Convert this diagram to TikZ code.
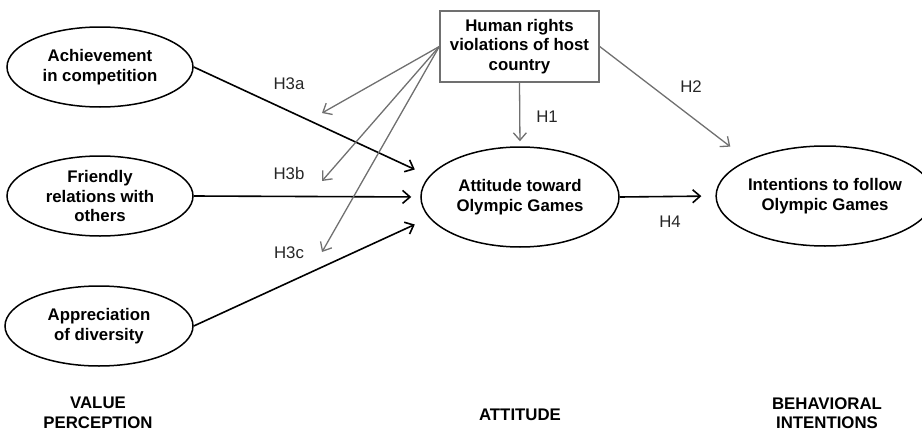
\documentclass[tikz,border=0pt]{standalone}
\usepackage{fontspec}
\setmainfont{Liberation Sans}
\usepackage{xcolor}
\usepackage{tikz}
\usetikzlibrary{shapes.geometric,arrows.meta,positioning}

\definecolor{modgray}{HTML}{707070}
\newcommand{\figfont}{\fontsize{16.8}{19.5}\selectfont}

\begin{document}
\begin{tikzpicture}[x=1pt, y=-1pt,
		construct/.style={draw, ellipse, line width=1.5pt, inner sep=0pt, align=center, font=\figfont\bfseries},
		link/.style={line width=1.6pt, -{Straight Barb[length=7.5pt,width=13pt]}},
		moderator/.style={draw=modgray, line width=1.3pt, -{Straight Barb[length=7.5pt,width=13pt]}},
		hyp/.style={text=black!85, font=\figfont},
		level/.style={align=center, font=\figfont\bfseries}]
		\useasboundingbox (0,0) rectangle (922,434);

		\begin{scope}
			\node[construct, minimum width=186, minimum height=80] (ach) at (100,67) {Achievement\\in competition};
			\node[construct, minimum width=186, minimum height=80] (fri) at (100,196) {Friendly\\relations with\\others};
			\node[construct, minimum width=188, minimum height=80] (app) at (99,326) {Appreciation\\of diversity};
		\end{scope}

		\node[construct, minimum width=198, minimum height=100] (att) at (520,197) {Attitude toward\\Olympic Games};
		\node[construct, minimum width=192, minimum height=100] (int) at (825,196) {Intentions to follow\\Olympic Games};
		\node[draw=modgray, line width=1.4pt, minimum width=159, minimum height=71, inner sep=0pt, align=center, font=\figfont\bfseries] (hrv) at (519.5,46.5) {Human rights\\violations of host\\country};

		\draw[link, shorten >=6pt] (ach.east) -- ([yshift=25pt]att.west);
		\draw[link, shorten >=9pt] (fri.east) -- (att.west);
		\draw[link, shorten >=6pt] (app.east) -- ([yshift=-25pt]att.west);
		\draw[link, shorten >=14pt] (att.east) -- (int.west);

		\coordinate (h3a) at (322,113);
		\coordinate (h3b) at (322,181);
		\coordinate (h3c) at (322,252);
		\foreach \h in {h3a,h3b,h3c}
			\draw[moderator] (hrv.west) -- (\h);
		\draw[moderator, shorten >=5pt] (hrv.south) -- (att.north);
		\draw[moderator, shorten >=22pt] (hrv.east) -- (int.155);

		\node[hyp] (lh3a) at (289,84) {H3a};
		\node[hyp] (lh3b) at (289,173) {H3b};
		\node[hyp] (lh3c) at (289,253) {H3c};
		\node[hyp] (lh1) at (547,117) {H1};
		\node[hyp] (lh2) at (691,87) {H2};
		\node[hyp] (lh4) at (670,222) {H4};

		\node[level] (vp) at (98,413) {VALUE\\PERCEPTION};
		\node[level] (atl) at (520,415) {ATTITUDE};
		\node[level] (bi) at (827,413) {BEHAVIORAL\\INTENTIONS};
	\end{tikzpicture}
\end{document}
